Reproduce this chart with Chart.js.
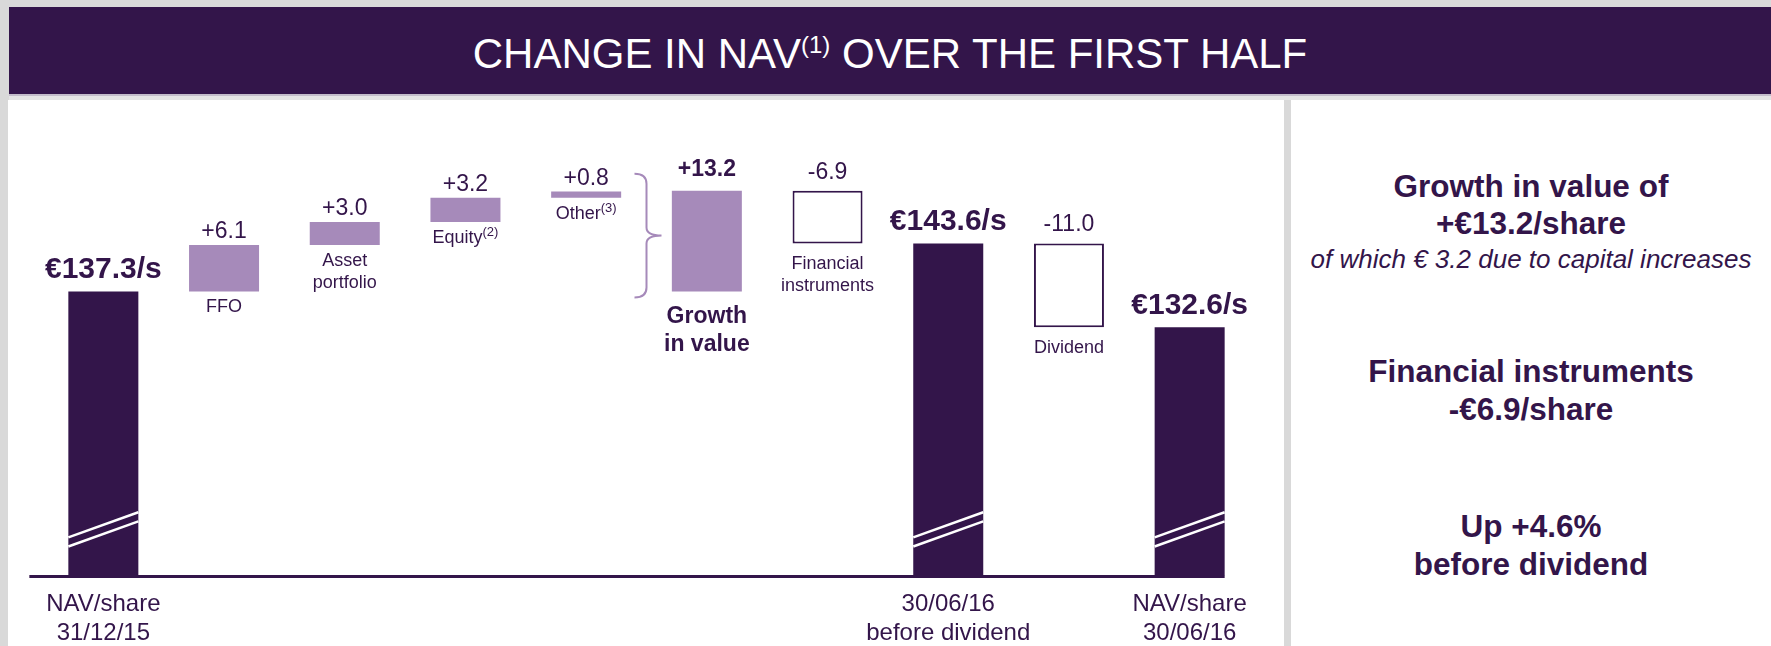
<!DOCTYPE html>
<html>
<head>
<meta charset="utf-8">
<title>Change in NAV over the first half</title>
<script src="https://cdn.jsdelivr.net/npm/chart.js@4.4.1/dist/chart.umd.min.js"></script>
<style>
    html, body {
        margin: 0;
        padding: 0;
    }
    body {
        width: 1771px;
        height: 646px;
        overflow: hidden;
        position: relative;
        background: #d9d9d9;
        font-family: "Liberation Sans", Arial, sans-serif;
        color: #33154a;
    }
    #header {
        position: absolute;
        left: 9px;
        top: 7px;
        width: 1762px;
        height: 87px;
        background: #33154a;
    }
    #header h1 {
        margin: 0;
        position: absolute;
        left: 0;
        right: 0;
        top: 26px;
        font-size: 42px;
        line-height: 42px;
        font-weight: normal;
        color: #ffffff;
        text-align: center;
        white-space: nowrap;
    }
    #header sup {
        font-size: 24px;
        line-height: 0;
        vertical-align: 15px;
    }
    #headerRule {
        position: absolute;
        left: 9px;
        top: 94px;
        width: 1762px;
        height: 2px;
        background: #c3bcca;
    }
    #headerShade {
        position: absolute;
        left: 9px;
        top: 96px;
        width: 1762px;
        height: 4px;
        background: #e4e4e4;
    }
    #leftPanel {
        position: absolute;
        left: 8px;
        top: 100px;
        width: 1276px;
        height: 572px;
        background: #ffffff;
    }
    #rightPanel {
        position: absolute;
        left: 1291px;
        top: 100px;
        width: 480px;
        height: 560px;
        background: #ffffff;
    }
    .note {
        position: absolute;
        left: 1291px;
        width: 480px;
        text-align: center;
        font-size: 31.5px;
        line-height: 31px;
        font-weight: bold;
        white-space: nowrap;
    }
    .note.small {
        font-size: 26px;
        line-height: 25px;
        font-weight: normal;
        font-style: italic;
    }
</style>
</head>
<body>
<div id="header"><h1>CHANGE IN NAV<sup>(1)</sup> OVER THE FIRST HALF</h1></div>
<div id="headerRule"></div>
<div id="headerShade"></div>

<div id="leftPanel">
    <canvas id="navChart"></canvas>
</div>
<div id="rightPanel"></div>

<div class="note" style="top: 171px;">Growth in value of</div>
<div class="note" style="top: 208px;">+€13.2/share</div>
<div class="note small" style="top: 247px;">of which € 3.2 due to capital increases</div>
<div class="note" style="top: 356px;">Financial instruments</div>
<div class="note" style="top: 394px;">-€6.9/share</div>
<div class="note" style="top: 511px;">Up +4.6%</div>
<div class="note" style="top: 549px;">before dividend</div>

<script>
// NAV bridge, values per share (EUR)
const categories = ['NAV/share 31/12/15', 'FFO', 'Asset portfolio', 'Equity', 'Other',
    'Growth in value', 'Financial instruments', '30/06/16 before dividend', 'Dividend', 'NAV/share 30/06/16'];
const values = [137.3, 6.1, 3.0, 3.2, 0.8, 13.2, -6.9, 143.6, -11.0, 132.6];
const kinds = ['total', 'step', 'step', 'step', 'step', 'sum', 'step', 'total', 'step', 'total'];
const valueLabels = ['€137.3/s', '+6.1', '+3.0', '+3.2', '+0.8', '+13.2', '-6.9', '€143.6/s', '-11.0', '€132.6/s'];
const barNames = [[], ['FFO'], ['Asset', 'portfolio'], ['Equity'], ['Other'], ['Growth', 'in value'],
    ['Financial', 'instruments'], [], ['Dividend'], []];
const barNotes = ['', '', '', '(2)', '(3)', '', '', '', '', ''];
const axisLabels = [['NAV/share', '31/12/15'], '', '', '', '', '', '', ['30/06/16', 'before dividend'], '', ['NAV/share', '30/06/16']];

// axis is cut: it starts at 100
const yMin = 100;
const yMax = 160;

const DARK = '#33154a';
const LILAC = '#a68aba';
const FONT = '"Liberation Sans", Arial, sans-serif';

// floating bars for the waterfall
const ranges = [];
let level = yMin;
let groupStart = yMin;
values.forEach((v, i) => {
    if (kinds[i] === 'total') {
        ranges.push([yMin, v]);
        level = v;
        groupStart = v;
    } else if (kinds[i] === 'sum') {
        ranges.push([groupStart, groupStart + v]);
        level = groupStart + v;
    } else {
        ranges.push([level, level + v]);
        level += v;
    }
});

const fills = values.map((v, i) => kinds[i] === 'total' ? DARK : (v >= 0 ? LILAC : '#ffffff'));
const borders = values.map((v, i) => (kinds[i] !== 'total' && v < 0) ? 2 : 0);

// baseline, axis break marks, brace and text around the bars
const waterfallDecor = {
    id: 'waterfallDecor',
    afterDatasetsDraw(chart) {
        const ctx = chart.ctx;
        const meta = chart.getDatasetMeta(0);
        const yScale = chart.scales.y;
        const bars = meta.data;
        ctx.save();

        // baseline
        const first = bars[0];
        const last = bars[bars.length - 1];
        const baseY = yScale.getPixelForValue(yMin) + 1;
        ctx.strokeStyle = DARK;
        ctx.lineWidth = 3;
        ctx.beginPath();
        ctx.moveTo(first.x - first.width / 2 - 39, baseY);
        ctx.lineTo(last.x + last.width / 2, baseY);
        ctx.stroke();

        // break marks on the cut bars
        ctx.strokeStyle = '#ffffff';
        ctx.lineWidth = 2.5;
        bars.forEach((bar, i) => {
            if (kinds[i] !== 'total') return;
            const xl = bar.x - bar.width / 2;
            const xr = bar.x + bar.width / 2;
            [[105.0, 108.3], [103.8, 107.1]].forEach(pair => {
                ctx.beginPath();
                ctx.moveTo(xl, yScale.getPixelForValue(pair[0]));
                ctx.lineTo(xr, yScale.getPixelForValue(pair[1]));
                ctx.stroke();
            });
        });

        // brace grouping the components of growth
        const sumIdx = kinds.indexOf('sum');
        const prev = bars[sumIdx - 1];
        const grow = bars[sumIdx];
        const bx = ((prev.x + prev.width / 2) + (grow.x - grow.width / 2)) / 2;
        const bTop = Math.min(grow.y, grow.base) - 17;
        const bBot = Math.max(grow.y, grow.base) + 6;
        const bMid = (bTop + bBot) / 2;
        ctx.strokeStyle = LILAC;
        ctx.lineWidth = 2;
        ctx.beginPath();
        ctx.moveTo(bx - 12, bTop);
        ctx.quadraticCurveTo(bx, bTop, bx, bTop + 10);
        ctx.lineTo(bx, bMid - 8);
        ctx.quadraticCurveTo(bx, bMid, bx + 15, bMid);
        ctx.quadraticCurveTo(bx, bMid, bx, bMid + 8);
        ctx.lineTo(bx, bBot - 10);
        ctx.quadraticCurveTo(bx, bBot, bx - 12, bBot);
        ctx.stroke();

        // labels
        ctx.fillStyle = DARK;
        ctx.textBaseline = 'alphabetic';
        bars.forEach((bar, i) => {
            const top = Math.min(bar.y, bar.base);
            const bottom = Math.max(bar.y, bar.base);
            const kind = kinds[i];
            const negative = values[i] < 0;

            // value above the bar
            ctx.textAlign = 'center';
            if (kind === 'total') {
                ctx.font = 'bold 30px ' + FONT;
                ctx.fillText(valueLabels[i], bar.x, top - 13);
            } else if (kind === 'sum') {
                ctx.font = 'bold 23px ' + FONT;
                ctx.fillText(valueLabels[i], bar.x, top - 15);
            } else {
                ctx.font = '23px ' + FONT;
                ctx.fillText(valueLabels[i], bar.x, top - (negative ? 12 : 7));
            }

            // name below the bar
            const lines = barNames[i];
            if (!lines.length) return;
            const bold = kind === 'sum';
            const nameFont = bold ? 'bold 23px ' + FONT : '18px ' + FONT;
            const lineGap = bold ? 28 : 22;
            let y = bottom + (bold ? 32 : (negative ? 26 : 21));
            lines.forEach(line => {
                ctx.font = nameFont;
                const note = barNotes[i];
                if (note) {
                    const w = ctx.measureText(line).width;
                    ctx.font = '13px ' + FONT;
                    const wn = ctx.measureText(note).width;
                    const start = bar.x - (w + wn) / 2;
                    ctx.textAlign = 'left';
                    ctx.fillText(note, start + w, y - 7);
                    ctx.font = nameFont;
                    ctx.fillText(line, start, y);
                    ctx.textAlign = 'center';
                } else {
                    ctx.fillText(line, bar.x, y);
                }
                y += lineGap;
            });
        });
        ctx.restore();
    }
};

new Chart(document.getElementById('navChart'), {
    type: 'bar',
    data: {
        labels: categories,
        datasets: [{
            data: ranges,
            backgroundColor: fills,
            borderColor: DARK,
            borderWidth: borders,
            borderSkipped: false,
            categoryPercentage: 1,
            barPercentage: 0.58
        }]
    },
    options: {
        responsive: true,
        maintainAspectRatio: false,
        animation: false,
        layout: {
            padding: { left: 35, right: 34, top: 18.5, bottom: 10 }
        },
        plugins: {
            legend: { display: false },
            tooltip: { enabled: false }
        },
        scales: {
            x: {
                grid: { display: false, drawTicks: false },
                border: { display: false },
                ticks: {
                    autoSkip: false,
                    maxRotation: 0,
                    padding: 14,
                    color: DARK,
                    font: { family: FONT, size: 24, lineHeight: 1.22 },
                    callback: function(value, index) {
                        return axisLabels[index];
                    }
                }
            },
            y: {
                display: false,
                min: yMin,
                max: yMax
            }
        }
    },
    plugins: [waterfallDecor]
});
</script>
</body>
</html>
